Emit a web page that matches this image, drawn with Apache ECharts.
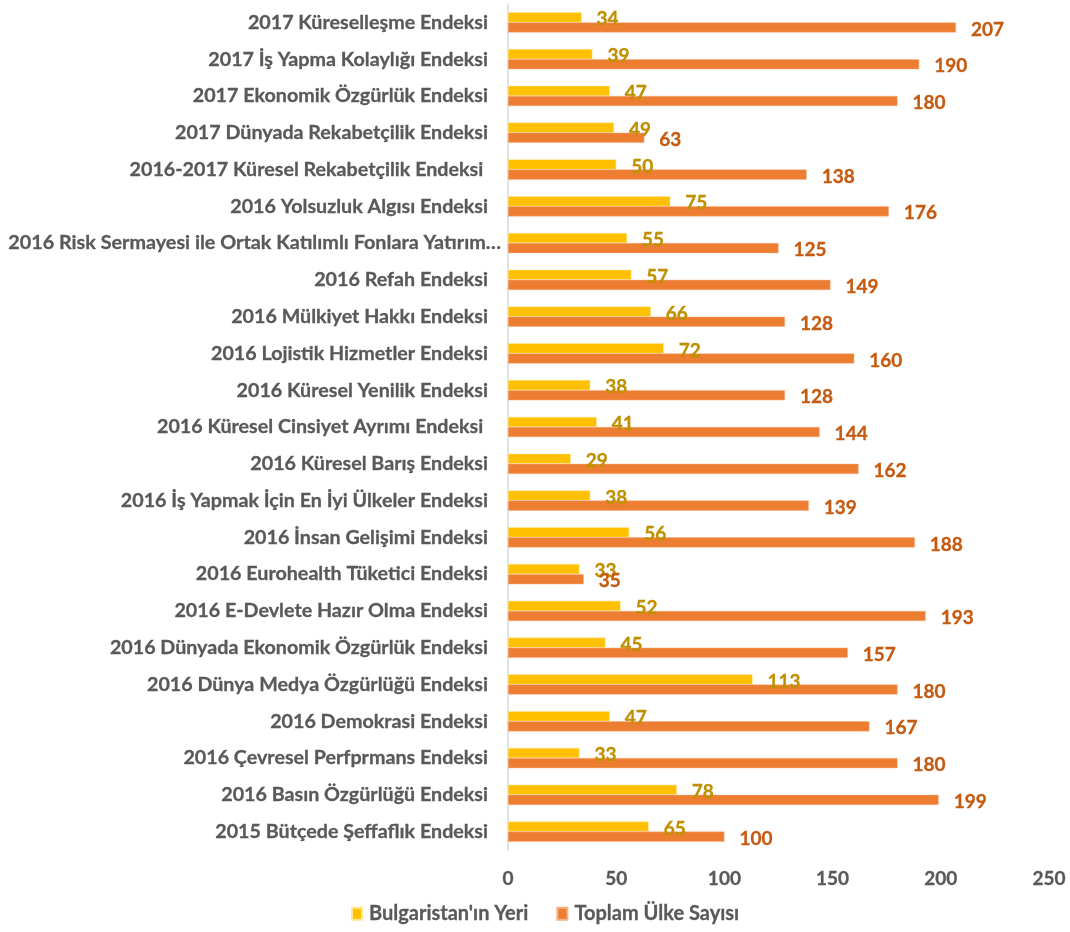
<!DOCTYPE html>
<html>
<head>
<meta charset="utf-8">
<script src="https://cdn.jsdelivr.net/npm/echarts@6/dist/echarts.min.js"></script>
<style>
html,body{margin:0;padding:0;background:#fff;}
#chart{width:1070px;height:932px;}
</style>
</head>
<body>
<div id="chart"></div>
<script>
const categories = [
  "2017 Küreselleşme Endeksi",
  "2017 İş Yapma Kolaylığı Endeksi",
  "2017 Ekonomik Özgürlük Endeksi",
  "2017 Dünyada Rekabetçilik Endeksi",
  "2016-2017 Küresel Rekabetçilik Endeksi ",
  "2016 Yolsuzluk Algısı Endeksi",
  "2016 Risk Sermayesi ile Ortak Katılımlı Fonlara Yatırım…",
  "2016 Refah Endeksi",
  "2016 Mülkiyet Hakkı Endeksi",
  "2016 Lojistik Hizmetler Endeksi",
  "2016 Küresel Yenilik Endeksi",
  "2016 Küresel Cinsiyet Ayrımı Endeksi ",
  "2016 Küresel Barış Endeksi",
  "2016 İş Yapmak İçin En İyi Ülkeler Endeksi",
  "2016 İnsan Gelişimi Endeksi",
  "2016 Eurohealth Tüketici Endeksi",
  "2016 E-Devlete Hazır Olma Endeksi",
  "2016 Dünyada Ekonomik Özgürlük Endeksi",
  "2016 Dünya Medya Özgürlüğü Endeksi",
  "2016 Demokrasi Endeksi",
  "2016 Çevresel Perfprmans Endeksi",
  "2016 Basın Özgürlüğü Endeksi",
  "2015 Bütçede Şeffaflık Endeksi"
];
const bulgariaRank = [34, 39, 47, 49, 50, 75, 55, 57, 66, 72, 38, 41, 29, 38, 56, 33, 52, 45, 113, 47, 33, 78, 65];
const totalCountries = [207, 190, 180, 63, 138, 176, 125, 149, 128, 160, 128, 144, 162, 139, 188, 35, 193, 157, 180, 167, 180, 199, 100];
const xTicks = [0, 50, 100, 150, 200, 250];
const seriesNames = ["Bulgaristan'ın Yeri", "Toplam Ülke Sayısı"];

const FONT = "Lato, 'Open Sans', sans-serif";
// the truncated long label overhangs the label column slightly, as in the reference
const yAxisData = categories.map(function (c) {
  return c.endsWith('…') ? { value: c, textStyle: { padding: [0, -13, 0, 0], fontSize: 19.8 } } : c;
});
const chart = echarts.init(document.getElementById('chart'));
chart.setOption({
  animation: false,
  textStyle: { fontFamily: FONT },
  grid: { left: 508, right: 21, top: 4, bottom: 82, containLabel: false, outerBoundsMode: 'none' },
  xAxis: {
    type: 'value',
    min: xTicks[0],
    max: xTicks[xTicks.length - 1],
    interval: 50,
    axisLine: { show: false },
    axisTick: { show: false },
    splitLine: { show: false },
    axisLabel: { color: '#595959', fontSize: 19, fontWeight: 'bold', fontFamily: FONT, margin: 19,
      textBorderColor: '#595959', textBorderWidth: 0.3 }
  },
  yAxis: {
    type: 'category',
    data: yAxisData,
    inverse: true,
    axisLine: { show: true, lineStyle: { color: '#D9D9D9', width: 1.5 } },
    axisTick: { show: false },
    axisLabel: { color: '#595959', fontSize: 19.7, fontWeight: 'bold', fontFamily: FONT, margin: 20,
      textBorderColor: '#595959', textBorderWidth: 0.3 }
  },
  legend: {
    data: seriesNames,
    bottom: 3,
    left: 346,
    itemWidth: 10,
    itemHeight: 12,
    itemGap: 28,
    icon: 'rect',
    textStyle: { color: '#595959', fontSize: 20, fontWeight: 'bold', fontFamily: FONT,
      textBorderColor: '#595959', textBorderWidth: 0.3, padding: [0, 0, 0, 2] }
  },
  series: [
    {
      name: seriesNames[0],
      type: 'bar',
      data: bulgariaRank,
      barGap: '0%',
      barCategoryGap: '45%',
      itemStyle: { color: '#FFC000', borderColor: '#FFE699', borderWidth: 0.5 },
      label: { show: true, position: 'right', distance: 15, offset: [0, 2], color: '#BF9000', fontSize: 19, fontWeight: 'bold', fontFamily: FONT,
        textBorderColor: '#BF9000', textBorderWidth: 0.3 }
    },
    {
      name: seriesNames[1],
      type: 'bar',
      data: totalCountries,
      barGap: '0%',
      barCategoryGap: '45%',
      itemStyle: { color: '#ED7D31', borderColor: '#F4B183', borderWidth: 0.5 },
      label: { show: true, position: 'right', distance: 15, offset: [0, 2], color: '#C55A11', fontSize: 19, fontWeight: 'bold', fontFamily: FONT,
        textBorderColor: '#C55A11', textBorderWidth: 0.3 }
    }
  ]
});
</script>
</body>
</html>
